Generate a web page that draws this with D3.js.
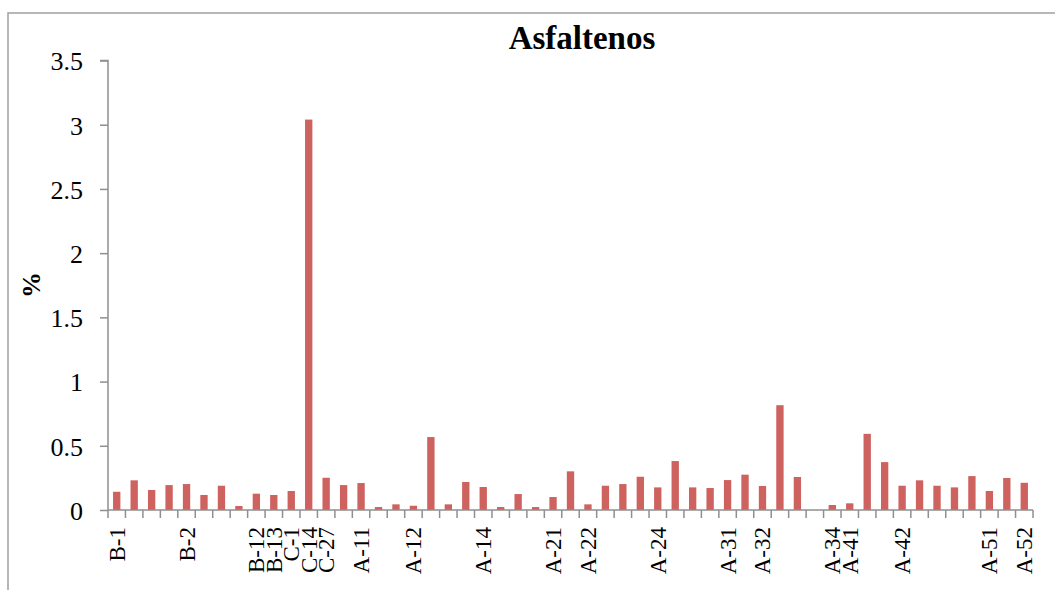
<!DOCTYPE html>
<html>
<head>
<meta charset="utf-8">
<script src="https://cdn.jsdelivr.net/npm/d3@7"></script>
<style>
  html, body { margin: 0; padding: 0; background: #fff; }
  svg { display: block; }
</style>
</head>
<body>
<svg id="chart" width="1055" height="590"></svg>
<script>
// ---- data ----
const title = "Asfaltenos";
const yLabel = "%";
const categories = [
  "B-1", "", "", "", "B-2", "", "", "", "B-12", "B-13",
  "C-1", "C-14", "C-27", "", "A-11", "", "", "A-12", "", "",
  "", "A-14", "", "", "", "A-21", "", "A-22", "", "",
  "", "A-24", "", "", "", "A-31", "", "A-32", "", "",
  "", "A-34", "A-41", "", "", "A-42", "", "", "", "",
  "A-51", "", "A-52"
];
const values = [
  0.142, 0.231, 0.156, 0.194, 0.202, 0.117, 0.189, 0.031, 0.127, 0.117,
  0.148, 3.04, 0.251, 0.194, 0.21, 0.023, 0.044, 0.033, 0.568, 0.044,
  0.218, 0.179, 0.023, 0.124, 0.023, 0.101, 0.301, 0.044, 0.189, 0.202,
  0.259, 0.176, 0.381, 0.176, 0.171, 0.233, 0.275, 0.187, 0.816, 0.257,
  0, 0.039, 0.052, 0.593, 0.373, 0.189, 0.231, 0.189, 0.176, 0.264,
  0.148, 0.249, 0.212
];
const yTicks = [0, 0.5, 1, 1.5, 2, 2.5, 3, 3.5];

// ---- layout ----
const svg = d3.select("#chart");
const mLeft = 108, mRight = 1033, mTop = 60.5, mBottom = 510;
const axisColor = "#8f8f8f";
const barColor = "#CD625E";
const serif = "'Liberation Serif', 'DejaVu Serif', serif";

// outer frame
svg.append("path")
  .attr("d", "M8,590 L8,13 L1055,13")
  .attr("fill", "none")
  .attr("stroke", "#a0a0a0")
  .attr("stroke-width", 1.5);

const idx = categories.map((d, i) => i);
const x = d3.scaleBand().domain(idx).range([mLeft, mRight]).paddingInner(0.58).paddingOuter(0.29);
const y = d3.scaleLinear().domain([0, 3.5]).range([mBottom, mTop]);

// bars
svg.append("g").selectAll("rect")
  .data(values)
  .join("rect")
  .attr("x", (d, i) => x(i))
  .attr("y", d => y(d))
  .attr("width", x.bandwidth())
  .attr("height", d => y(0) - y(d))
  .attr("fill", barColor);

// y axis
const yAxis = d3.axisLeft(y).tickValues(yTicks).tickSize(8).tickPadding(17)
  .tickFormat(d => String(d));
const gy = svg.append("g").attr("transform", `translate(${mLeft},0)`).call(yAxis);
gy.select(".domain").attr("stroke", axisColor).attr("stroke-width", 1.5)
  .attr("d", `M-8,${mTop}H0V${mBottom}`);
gy.selectAll(".tick line").attr("stroke", axisColor).attr("stroke-width", 1.5);
gy.selectAll(".tick text").attr("font-family", serif).attr("font-size", 26)
  .attr("fill", "#000").attr("dy", "0.36em");

// x axis
const gx = svg.append("g").attr("transform", `translate(0,${mBottom})`);
gx.append("line").attr("x1", mLeft).attr("x2", mRight).attr("y1", 0).attr("y2", 0)
  .attr("stroke", axisColor).attr("stroke-width", 1.5);
const step = x.step();
const boundaries = idx.map(i => x(i) + x.bandwidth() / 2 - step / 2).concat([mRight]);
gx.selectAll("line.tk").data(boundaries).join("line").attr("class", "tk")
  .attr("x1", d => d).attr("x2", d => d).attr("y1", 0).attr("y2", 8)
  .attr("stroke", axisColor).attr("stroke-width", 1.5);
gx.selectAll("text").data(categories).join("text")
  .attr("transform", (d, i) => `translate(${x(i) + x.bandwidth() / 2 + 8},17) rotate(-90)`)
  .attr("text-anchor", "end")
  .attr("font-family", serif)
  .attr("font-size", 23)
  .attr("fill", "#000")
  .text(d => d);

// title
svg.append("text")
  .attr("x", 582).attr("y", 49)
  .attr("text-anchor", "middle")
  .attr("font-family", serif)
  .attr("font-weight", "bold")
  .attr("font-size", 33)
  .text(title);

// y label
svg.append("text")
  .attr("transform", "translate(40,285) rotate(-90)")
  .attr("text-anchor", "middle")
  .attr("font-family", serif)
  .attr("font-weight", "bold")
  .attr("font-size", 26)
  .text(yLabel);
</script>
</body>
</html>
